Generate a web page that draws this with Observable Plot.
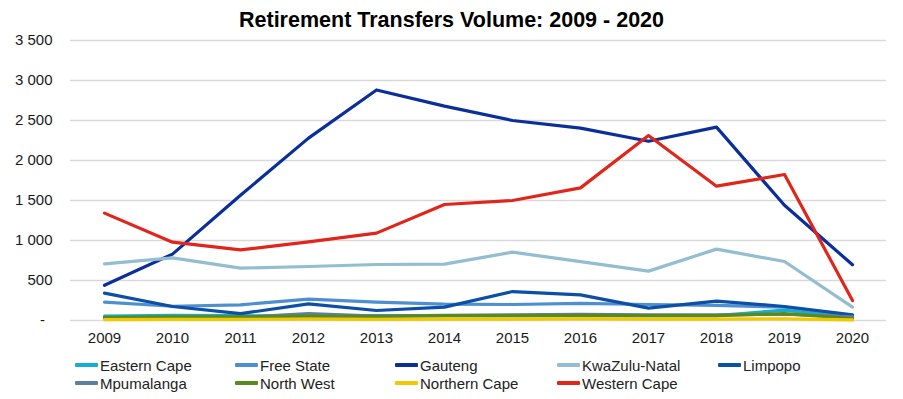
<!DOCTYPE html>
<html>
<head>
<meta charset="utf-8">
<script src="https://cdn.jsdelivr.net/npm/d3@7"></script>
<script src="https://cdn.jsdelivr.net/npm/@observablehq/plot@0.6"></script>
<style>
  html, body { margin: 0; padding: 0; background: #fff; }
  #wrap { position: relative; width: 903px; height: 399px; font-family: "Liberation Sans", Arial, sans-serif; overflow: hidden; }
  #title { position: absolute; top: 5px; left: 0; width: 903px; text-align: center; font-weight: bold; font-size: 21.5px; line-height: 30px; color: #000; }
  #chart { position: absolute; top: 25px; left: 0; }
  .lg { position: absolute; display: flex; align-items: center; font-size: 15px; color: #222; white-space: nowrap; height: 18px; }
  .lg span.sw { display: inline-block; width: 23px; height: 4px; margin-right: 2px; border-radius: 1px; }
</style>
</head>
<body>
<div id="wrap">
  <div id="title">Retirement Transfers Volume: 2009 - 2020</div>
  <div id="chart"></div>
</div>
<script>
const years = ["2009","2010","2011","2012","2013","2014","2015","2016","2017","2018","2019","2020"];
const yTicks = [0, 500, 1000, 1500, 2000, 2500, 3000, 3500];

const provinces = ["Eastern Cape","Free State","Gauteng","KwaZulu-Natal","Limpopo","Mpumalanga","North West","Northern Cape","Western Cape"];
const colors = ["#12afd0","#4e8fd2","#0a2f9b","#93bdd0","#0c4fa6","#5f7f9e","#5a8a1e","#f2c800","#e0261b"];

const easternCape  = [55, 65, 60, 58, 60, 62, 60, 62, 60, 62, 130, 35];
const freeState    = [230, 178, 196, 268, 229, 205, 200, 215, 200, 188, 167, 62];
const gauteng      = [440, 830, 1565, 2280, 2882, 2680, 2500, 2404, 2240, 2417, 1440, 696];
const kwaZuluNatal = [708, 783, 655, 675, 700, 705, 854, 737, 617, 892, 737, 167];
const limpopo      = [342, 175, 85, 208, 125, 167, 362, 321, 154, 242, 175, 71];
const mpumalanga   = [30, 45, 40, 85, 55, 65, 70, 78, 72, 70, 78, 45];
const northWest    = [40, 45, 45, 55, 50, 60, 60, 65, 60, 62, 85, 25];
const northernCape = [12, 15, 15, 18, 15, 18, 18, 20, 18, 18, 20, 8];
const westernCape  = [1342, 979, 883, 982, 1092, 1450, 1500, 1658, 2312, 1679, 1825, 250];

const series = [easternCape, freeState, gauteng, kwaZuluNatal, limpopo, mpumalanga, northWest, northernCape, westernCape];

const rows = [];
provinces.forEach((p, i) => years.forEach((y, j) => rows.push({province: p, year: y, value: series[i][j]})));

const fmt = v => v === 0 ? "-\u2002" : d3.format(",")(v).replace(/,/g, " ");

const chart = Plot.plot({
  width: 903,
  height: 330,
  marginTop: 15,
  marginBottom: 35,
  marginLeft: 70,
  marginRight: 17,
  style: {fontFamily: "Liberation Sans, Arial, sans-serif", fontSize: "15px", color: "#1a1a1a", background: "transparent", overflow: "visible"},
  x: {type: "point", domain: years, padding: 0.5, label: null},
  y: {domain: [0, 3500], label: null},
  color: {domain: provinces, range: colors},
  marks: [
    Plot.ruleY(yTicks, {stroke: "#d9d9d9", strokeWidth: 1.5}),
    Plot.axisX({tickSize: 0, tickPadding: 12, fontSize: 15, label: null}),
    Plot.axisY({ticks: yTicks, tickSize: 0, tickPadding: 18, tickFormat: fmt, fontSize: 15, label: null}),
    Plot.line(rows, {x: "year", y: "value", z: "province", stroke: "province", strokeWidth: 3.2, strokeLinejoin: "round", strokeLinecap: "round"})
  ]
});
document.getElementById("chart").appendChild(chart);

// legend (HTML, below the chart)
const wrap = document.getElementById("wrap");
const colX = [75, 235, 395, 557, 718];
const rowY = [356, 374];
provinces.forEach((p, i) => {
  const d = document.createElement("div");
  d.className = "lg";
  d.style.left = colX[i % 5] + "px";
  d.style.top = rowY[Math.floor(i / 5)] + "px";
  d.innerHTML = `<span class="sw" style="background:${colors[i]}"></span>${p}`;
  wrap.appendChild(d);
});
</script>
</body>
</html>
